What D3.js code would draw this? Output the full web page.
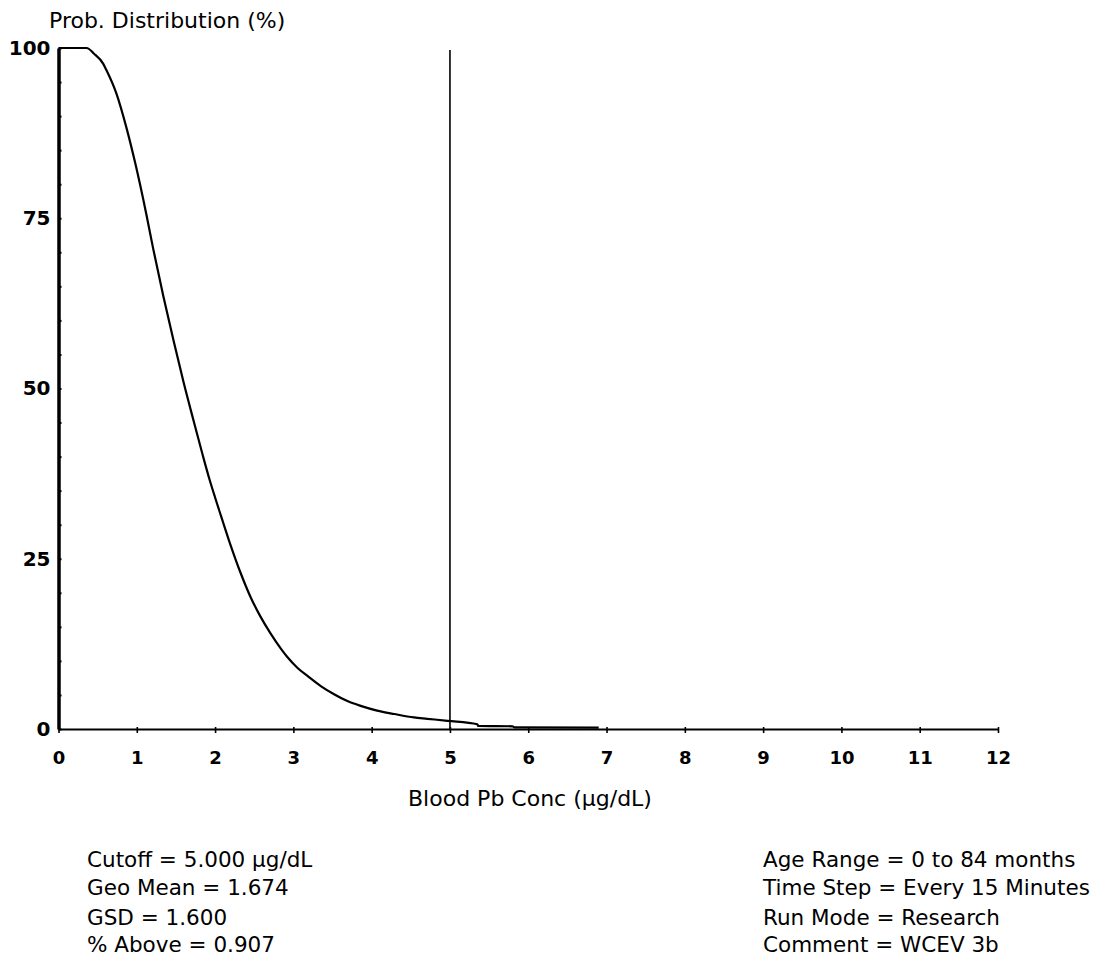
<!DOCTYPE html>
<html>
<head>
<meta charset="utf-8">
<script src="https://cdn.jsdelivr.net/npm/d3@7"></script>
<style>
  html, body { margin: 0; padding: 0; background: #fff; }
  svg { display: block; }
  text { font-family: "DejaVu Sans", sans-serif; fill: #000; }
</style>
</head>
<body>
<svg id="chart" width="1115" height="962"></svg>
<script>
// Blood Pb concentration (ug/dL) and probability above (%)
const bloodPb = [0, 0.36, 0.45, 0.57, 0.61, 0.74, 0.87, 0.98, 1.12, 1.21, 1.34, 1.47, 1.6, 1.72, 1.84, 1.93, 2.0, 2.05, 2.18, 2.33, 2.46, 2.58, 2.71, 2.84, 2.92, 3.05, 3.18, 3.35, 3.52, 3.69, 3.86, 4.07, 4.29, 4.54, 4.71, 4.97, 5.35, 5.36, 5.8, 5.82, 6.9];
const probAbove = [100, 100, 99.2, 97.7, 96.8, 93.3, 88.2, 83.1, 75.7, 70.5, 63.5, 57.0, 50.8, 45.5, 40.3, 36.6, 34.0, 32.2, 27.6, 22.8, 19.2, 16.5, 14.0, 11.8, 10.6, 9.0, 7.8, 6.3, 5.1, 4.1, 3.4, 2.7, 2.2, 1.7, 1.5, 1.2, 0.7, 0.45, 0.4, 0.25, 0.2];

const xTicks = [0, 1, 2, 3, 4, 5, 6, 7, 8, 9, 10, 11, 12];
const yMajorTicks = [0, 25, 50, 75, 100];
const yMinorTicks = d3.range(0, 101, 5);
const cutoffValue = 5;

const titleText = "Prob. Distribution (%)";
const xAxisTitle = "Blood Pb Conc (µg/dL)";
const leftNotes = ["Cutoff = 5.000 µg/dL", "Geo Mean = 1.674", "GSD = 1.600", "% Above = 0.907"];
const rightNotes = ["Age Range = 0 to 84 months", "Time Step = Every 15 Minutes", "Run Mode = Research", "Comment = WCEV 3b"];

const svg = d3.select("#chart");
const x = d3.scaleLinear().domain([0, 12]).range([58.5, 998]);
const y = d3.scaleLinear().domain([0, 100]).range([729, 48]);

// Title
svg.append("text").attr("x", 49).attr("y", 28)
  .attr("font-size", 22).text(titleText);

// Cutoff line
svg.append("line")
  .attr("x1", x(cutoffValue)).attr("x2", x(cutoffValue))
  .attr("y1", 50).attr("y2", y(0))
  .attr("stroke", "#000").attr("stroke-width", 1.6);

// X axis
const xAxis = d3.axisBottom(x).tickValues(xTicks).tickSize(4).tickSizeOuter(0).tickFormat(d3.format("d"));
const gx = svg.append("g").attr("transform", `translate(0,${y(0)})`).call(xAxis);
gx.select(".domain").attr("stroke-width", 2);
gx.selectAll(".tick line").attr("y1", -2).attr("stroke-width", 1.6);
gx.selectAll(".tick text").attr("y", 29).attr("dy", "0.35em")
  .attr("font-size", 18).attr("font-weight", "bold")
  .style("font-family", "'DejaVu Sans', sans-serif");

// Y axis (minor ticks inside)
const yAxisMinor = d3.axisRight(y).tickValues(yMinorTicks).tickSize(3).tickSizeOuter(0).tickFormat("");
const gyMinor = svg.append("g").attr("transform", `translate(${x(0)},0)`).call(yAxisMinor);
gyMinor.select(".domain").attr("stroke-width", 3.5);
gyMinor.selectAll(".tick line").attr("stroke-width", 2);

const yAxis = d3.axisLeft(y).tickValues(yMajorTicks).tickSize(0).tickPadding(8).tickFormat(d3.format("d"));
const gy = svg.append("g").attr("transform", `translate(${x(0)},0)`).call(yAxis);
gy.select(".domain").remove();
gy.selectAll(".tick text").attr("font-size", 20).attr("font-weight", "bold")
  .style("font-family", "'DejaVu Sans', sans-serif");

// Curve
const pts = bloodPb.map((v, i) => [v, probAbove[i]]);
const line = d3.line().x(d => x(d[0])).y(d => y(d[1])).curve(d3.curveMonotoneX);
svg.append("path").datum(pts)
  .attr("d", line).attr("fill", "none")
  .attr("stroke", "#000").attr("stroke-width", 2.2)
  .attr("stroke-linejoin", "round");

// X axis title
svg.append("text").attr("x", 530).attr("y", 806)
  .attr("text-anchor", "middle").attr("font-size", 22).text(xAxisTitle);

// Notes
const noteBase = [867, 895, 925, 952];
svg.append("g").selectAll("text").data(leftNotes).join("text")
  .attr("x", 87).attr("y", (d, i) => noteBase[i])
  .attr("font-size", 21.5).text(d => d);
svg.append("g").selectAll("text").data(rightNotes).join("text")
  .attr("x", 763).attr("y", (d, i) => noteBase[i])
  .attr("font-size", 21.5).text(d => d);
</script>
</body>
</html>
